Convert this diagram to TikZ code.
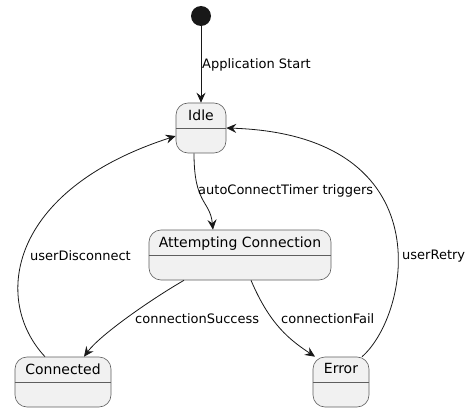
\documentclass[tikz,border=0pt]{standalone}
\usepackage{fontspec}
\setmainfont{DejaVu Sans}
\usetikzlibrary{arrows.meta}
\definecolor{Ink}{HTML}{181818}
\definecolor{Box}{HTML}{F1F1F1}
\definecolor{Rim}{HTML}{5E5E5E}

\tikzset{
  state/.style={draw=Rim,fill=Box,line width=0.6pt,rounded corners=12pt,minimum height=50pt,inner sep=0pt},
  stitle/.style={anchor=north,font=\fontsize{14}{16}\selectfont,inner sep=0pt,yshift=-6.5pt},
  lbl/.style={anchor=west,font=\fontsize{13}{15}\selectfont,inner sep=0pt},
  edge/.style={draw=Ink,line width=0.8pt,-{Stealth[length=10pt,width=9pt,inset=3.5pt]}}
}

\begin{document}
\begin{tikzpicture}[x=1pt,y=-1pt]
\path[use as bounding box] (0,0) rectangle (472,412);

% states
\node[circle,fill=Ink,minimum size=20pt,inner sep=0pt] (start) at (201,16) {};
\node[state,minimum width=50pt] (idle) at (201,128) {};
\node[state,minimum width=182pt] (attempt) at (240,255) {};
\node[state,minimum width=96pt] (conn) at (63,382) {};
\node[state,minimum width=56pt] (err) at (341,382) {};
\foreach \s/\t in {idle/Idle,attempt/Attempting Connection,conn/Connected,err/Error}{
  \node[stitle] (\s-t) at (\s.north) {\t};
  \draw[Rim,line width=0.6pt] ([yshift=-26pt]\s.north west) -- ([yshift=-26pt]\s.north east);
}

% transitions
\draw[edge] (start) -- (idle);
\draw[edge] ([xshift=-7pt]idle.south) .. controls (194,205) and (210,200) .. ([xshift=-27pt]attempt.north);
\draw[edge] ([xshift=-56pt]attempt.south) .. controls (150,300) and (100,335) .. ([xshift=21pt]conn.north);
\draw[edge] ([xshift=11pt]attempt.south) .. controls (270,325) and (290,340) .. ([xshift=-26pt]err.north);
\draw[edge] ([xshift=-18pt]conn.north) .. controls (-8,300) and (8,190) .. ([yshift=-8pt]idle.west);
\draw[edge] ([xshift=21pt]err.north) .. controls (410,315) and (445,135) .. (idle.east);

% labels
\node[lbl] (l-app) at (202,65) {Application Start};
\node[lbl] (l-auto) at (198,191) {autoConnectTimer triggers};
\node[lbl] (l-succ) at (135,319) {connectionSuccess};
\node[lbl] (l-fail) at (281,319) {connectionFail};
\node[lbl] (l-disc) at (30,256) {userDisconnect};
\node[lbl] (l-retry) at (402,256) {userRetry};
\end{tikzpicture}
\end{document}
